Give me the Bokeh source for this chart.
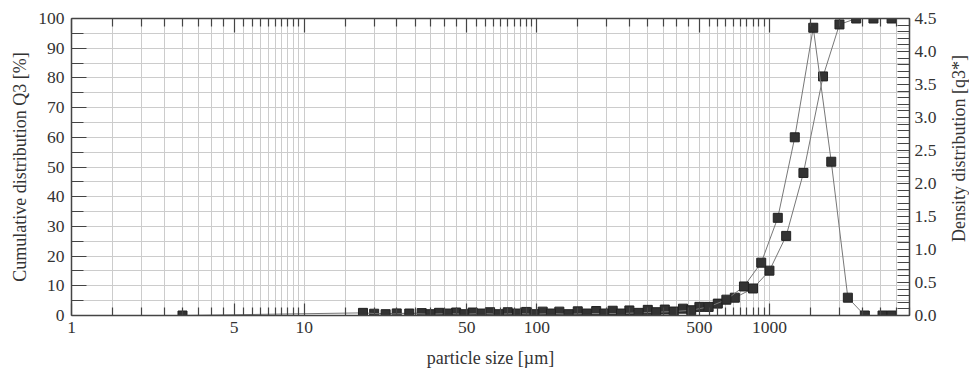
import math
from bokeh.plotting import figure
from bokeh.layouts import row
from bokeh.models import Range1d, LinearAxis, LogAxis, FixedTicker, PrintfTickFormatter
from bokeh.core.properties import value
from bokeh.embed import file_html
from bokeh.resources import INLINE

# ---- data ----
# cumulative distribution Q3 [%] at sieve sizes [um]
cum_size = [20, 25, 32, 38, 45, 53, 63, 75, 90, 106, 125, 150, 180, 212, 250, 300,
            355, 425, 500, 600, 710, 850, 1000, 1180, 1400, 1700, 2000, 2360, 2800, 3350]
cum_q3 = [0.6, 0.7, 0.8, 0.9, 1.0, 1.0, 1.1, 1.1, 1.2, 1.3, 1.3, 1.4, 1.5, 1.6, 1.7, 1.9,
          2.0, 2.3, 2.9, 4.0, 6.0, 9.1, 15.1, 26.8, 48.0, 80.5, 98.0, 100, 100, 100]

# density distribution q3* at class mid sizes [um]
dens_size = [3.0, 17.9, 22.4, 28.3, 34.9, 41.4, 48.8, 57.8, 68.7, 82.2, 97.7, 115, 137,
             164, 195, 230, 274, 326, 388, 461, 548, 653, 777, 922, 1086, 1285, 1543,
             1844, 2173, 2571, 3063, 3350]
dens_q3 = [0.0, 0.04, 0.02, 0.03, 0.02, 0.03, 0.02, 0.03, 0.02, 0.03, 0.02, 0.03, 0.02,
           0.03, 0.03, 0.03, 0.04, 0.05, 0.06, 0.08, 0.13, 0.24, 0.44, 0.80, 1.48, 2.70,
           4.36, 2.33, 0.27, 0.0, 0.0, 0.0]

x_major = [1, 5, 10, 50, 100, 500, 1000]
y_left_major = [0, 10, 20, 30, 40, 50, 60, 70, 80, 90, 100]
y_right_major = [0.0, 0.5, 1.0, 1.5, 2.0, 2.5, 3.0, 3.5, 4.0, 4.5]

x_title = "particle size [µm]"
y_left_title = "Cumulative distribution Q3 [%]"
y_right_title = "Density distribution [q3*]"

# ---- styling ----
FONT = "Liberation Serif"
TXT = "#333333"
AX = "#444444"
GRID = "#cccccc"

x_minor = []
for d in range(4):
    for k in range(2, 20):
        v = k * 0.5 * 10 ** d
        if v <= 4000 and v not in x_major:
            x_minor.append(v)

y_left_minor = [v + 5 for v in y_left_major[:-1]]
y_right_minor = [round(i * 0.1, 1) for i in range(46)]

p = figure(width=947, height=370, x_axis_type="log",
           x_range=Range1d(1, 4000), y_range=Range1d(0, 100),
           output_backend="svg", toolbar_location=None,
           min_border_left=71, min_border_right=38, min_border_top=18, min_border_bottom=54)
p.extra_y_ranges = {"dens": Range1d(0, 4.5)}
p.outline_line_color = None
p.background_fill_color = "white"

xt = FixedTicker(ticks=x_major, minor_ticks=x_minor)
xa = p.xaxis[0]
xa.ticker = xt
xa.formatter = PrintfTickFormatter(format="%d")
xa.axis_label = x_title

ya = p.yaxis[0]
ya.ticker = FixedTicker(ticks=y_left_major, minor_ticks=y_left_minor)
ya.axis_label = y_left_title

top = LogAxis(ticker=xt, major_label_text_font_size="1px", major_label_text_color=None,
              major_label_standoff=0)
p.add_layout(top, "above")

right = LinearAxis(y_range_name="dens",
                   ticker=FixedTicker(ticks=y_right_major, minor_ticks=y_right_minor),
                   formatter=PrintfTickFormatter(format="%.1f"))
p.add_layout(right, "right")

for ax in [xa, ya, top, right]:
    ax.axis_line_color = AX
    ax.axis_line_width = 1.5
    ax.major_tick_line_color = AX
    ax.minor_tick_line_color = AX
    ax.major_tick_line_width = 1.2
    ax.minor_tick_line_width = 1.2
    ax.major_tick_out = 0
    ax.minor_tick_out = 0
    ax.major_label_text_font = FONT
    ax.axis_label_text_font = FONT
    ax.axis_label_text_color = TXT
    ax.axis_label_text_font_style = "normal"

for ax in [xa, ya, right]:
    ax.major_label_text_color = TXT
    ax.major_label_text_font_size = "17.5px"
    ax.axis_label_text_font_size = "18px"

xa.major_tick_in = 12
xa.minor_tick_in = 8
xa.major_label_standoff = 6
xa.axis_label_standoff = 12
top.major_tick_in = 14
top.minor_tick_in = 8
ya.major_tick_in = 15
ya.minor_tick_in = 12
ya.major_label_standoff = 7
ya.axis_label_standoff = 5
right.major_tick_in = 12
right.minor_tick_in = 12
right.major_label_standoff = 5

for g in [p.xgrid[0], p.ygrid[0]]:
    g.grid_line_color = GRID
    g.minor_grid_line_color = GRID
    g.grid_line_width = 1
    g.minor_grid_line_width = 1

# ---- series ----
LINE = "#777777"
MK = "#333333"
p.line(cum_size, cum_q3, line_color=LINE, line_width=1)
p.scatter(cum_size, cum_q3, marker="square", size=9, fill_color=MK, line_color="#222222")
p.line(dens_size, dens_q3, line_color=LINE, line_width=1, y_range_name="dens")
p.scatter(dens_size, dens_q3, marker="square", size=9, fill_color=MK, line_color="#222222",
          y_range_name="dens")

# ---- narrow strip carrying the right-hand axis title (reads bottom to top) ----
t = figure(width=22, height=370, x_range=Range1d(0, 22), y_range=Range1d(0, 370),
           output_backend="svg", toolbar_location=None,
           min_border_left=0, min_border_right=0, min_border_top=0, min_border_bottom=0)
t.axis.visible = False
t.grid.visible = False
t.outline_line_color = None
t.text(x=[11], y=[208], text=[y_right_title], angle=math.pi / 2,
       text_align="center", text_baseline="middle",
       text_font=value(FONT), text_font_size=value("18px"), text_color=TXT)

layout = row(p, t, spacing=0)
open("out.html", "w").write(file_html(layout, INLINE))
